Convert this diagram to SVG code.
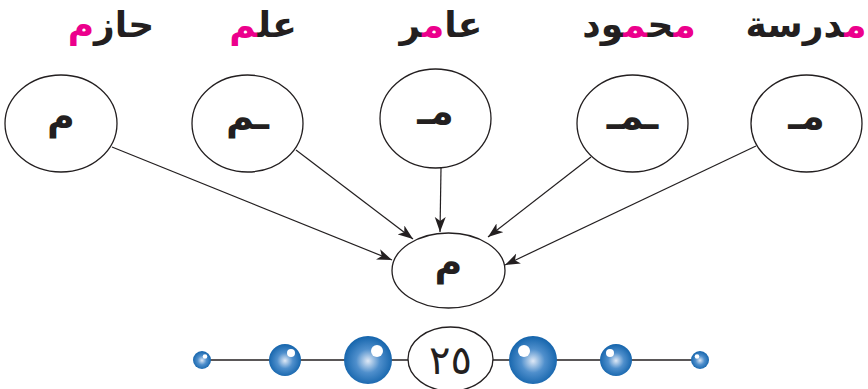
<svg xmlns="http://www.w3.org/2000/svg" width="868" height="389" viewBox="0 0 868 389">
<style>
.node{fill:#fff;stroke:#231f20;stroke-width:1.3}
.lbl{font-family:"DejaVu Sans",sans-serif;font-weight:bold;font-size:38px;fill:#231f20;text-anchor:middle;direction:rtl}
.ttl{font-family:"DejaVu Sans",sans-serif;font-weight:bold;font-size:36px;fill:#231f20;text-anchor:middle;direction:rtl}
.pk{fill:#ec008c}
.edge{stroke:#231f20;stroke-width:1.2;fill:none;marker-end:url(#arr)}
.bar{stroke:#231f20;stroke-width:1.5}
.hl{fill:#fff}
</style>
<defs>
<marker id="arr" markerUnits="userSpaceOnUse" markerWidth="16" markerHeight="12" refX="15" refY="5.5" orient="auto">
<path d="M0,0 L15,5.5 L0,11 L4,5.5 Z" fill="#231f20"/>
</marker>
<radialGradient id="sL" cx="0.5" cy="0.52" r="0.55">
<stop offset="0" stop-color="#dfe9f6"/>
<stop offset="0.45" stop-color="#4f8fcc"/>
<stop offset="1" stop-color="#0d5fa8"/>
</radialGradient>
</defs>

<g id="titles">
<text class="ttl" x="111" y="37">حاز<tspan class="pk">م</tspan></text>
<text class="ttl" x="263" y="37">عل<tspan class="pk">م</tspan></text>
<text class="ttl" x="441" y="37">عا<tspan class="pk">م</tspan>ر</text>
<text class="ttl" x="639" y="37"><tspan class="pk">م</tspan>ح<tspan class="pk">م</tspan>ود</text>
<text class="ttl" x="806" y="37"><tspan class="pk">م</tspan>درسة</text>
</g>

<g id="connectors">
<line class="edge" x1="112" y1="147" x2="392" y2="260"/>
<line class="edge" x1="296" y1="150" x2="413" y2="239"/>
<line class="edge" x1="441" y1="168" x2="440" y2="232"/>
<line class="edge" x1="591" y1="157" x2="488" y2="237"/>
<line class="edge" x1="756" y1="146" x2="505" y2="265"/>
</g>

<g id="node1"><ellipse class="node" cx="61" cy="123.5" rx="56" ry="48.5"/><text class="lbl" x="61" y="129">م</text></g>
<g id="node2"><ellipse class="node" cx="247.5" cy="123.5" rx="55.5" ry="48.5"/><text class="lbl" x="247.5" y="129">ـم</text></g>
<g id="node3"><ellipse class="node" cx="435.5" cy="118.5" rx="55.5" ry="49.5"/><text class="lbl" x="435.5" y="124">مـ</text></g>
<g id="node4"><ellipse class="node" cx="632.5" cy="123.5" rx="55.5" ry="48.5"/><text class="lbl" x="632.5" y="129">ـمـ</text></g>
<g id="node5"><ellipse class="node" cx="806.5" cy="123.5" rx="55.5" ry="48.5"/><text class="lbl" x="806.5" y="129">مـ</text></g>
<g id="center"><ellipse class="node" cx="448.5" cy="270.5" rx="56.5" ry="37.5"/><text class="lbl" x="448.5" y="275">م</text></g>

<g id="footer">
<line class="bar" x1="202" y1="360" x2="700" y2="360"/>
<circle cx="202" cy="360" r="9" fill="url(#sL)"/><circle class="hl" cx="205" cy="356.5" r="2.3"/>
<circle cx="285" cy="360" r="16" fill="url(#sL)"/><circle class="hl" cx="291" cy="353" r="4"/>
<circle cx="368" cy="360" r="24" fill="url(#sL)"/><circle class="hl" cx="377" cy="351" r="6"/>
<circle cx="533" cy="360" r="24" fill="url(#sL)"/><circle class="hl" cx="524" cy="351" r="6"/>
<circle cx="616" cy="360" r="16" fill="url(#sL)"/><circle class="hl" cx="610" cy="353" r="4"/>
<circle cx="700" cy="360" r="9" fill="url(#sL)"/><circle class="hl" cx="697" cy="356.5" r="2.3"/>
<ellipse class="node" cx="450.5" cy="359" rx="42.5" ry="32" stroke-width="1.6"/>
<text x="450.5" y="374" font-family="DejaVu Sans,sans-serif" font-size="40" fill="#231f20" text-anchor="middle">٢٥</text>
</g>
</svg>
